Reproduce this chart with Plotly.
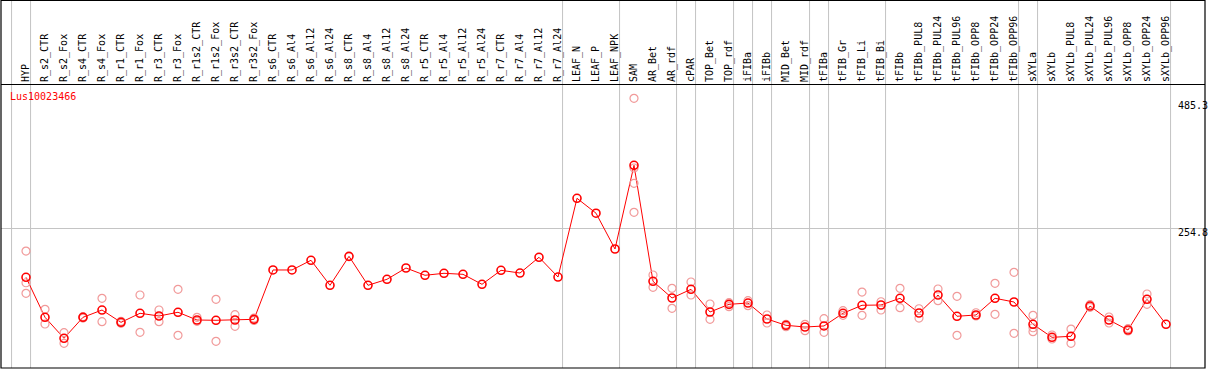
import plotly.graph_objects as go

gene = "Lus10023466"

labels = ["HYP", "R_s2_CTR", "R_s2_Fox", "R_s4_CTR", "R_s4_Fox", "R_r1_CTR", "R_r1_Fox",
          "R_r3_CTR", "R_r3_Fox", "R_r1s2_CTR", "R_r1s2_Fox", "R_r3s2_CTR", "R_r3s2_Fox",
          "R_s6_CTR", "R_s6_Al4", "R_s6_Al12", "R_s6_Al24", "R_s8_CTR", "R_s8_Al4", "R_s8_Al12",
          "R_s8_Al24", "R_r5_CTR", "R_r5_Al4", "R_r5_Al12", "R_r5_Al24", "R_r7_CTR", "R_r7_Al4",
          "R_r7_Al12", "R_r7_Al24", "LEAF_N", "LEAF_P", "LEAF_NPK", "SAM", "AR_Bet", "AR_rdf",
          "cPAR", "TOP_Bet", "TOP_rdf", "iFIBa", "iFIBb", "MID_Bet", "MID_rdf", "tFIBa",
          "tFIB_Gr", "tFIB_Li", "tFIB_Bi", "tFIBb", "tFIBb_PUL8", "tFIBb_PUL24", "tFIBb_PUL96",
          "tFIBb_OPP8", "tFIBb_OPP24", "tFIBb_OPP96", "sXYLa", "sXYLb", "sXYLb_PUL8",
          "sXYLb_PUL24", "sXYLb_PUL96", "sXYLb_OPP8", "sXYLb_OPP24", "sXYLb_OPP96"]

means = [167.9, 97.0, 59.8, 97.0, 109.9, 88.1, 104.1,
         99.3, 105.9, 92.2, 91.7, 92.2, 93.4,
         180.9, 180.9, 198.1, 153.7, 205.1, 153.7, 164.4,
         184.4, 171.5, 175.0, 173.2, 155.5, 180.3, 175.5,
         203.4, 168.4, 308.0, 281.6, 218.1, 366.5, 160.8, 131.2,
         146.6, 106.4, 120.0, 122.3, 94.0, 82.8, 79.8, 81.6,
         104.1, 118.3, 118.8, 130.7, 104.6, 136.5, 98.8,
         101.1, 130.7, 124.1, 84.6, 61.5, 63.3,
         117.0, 92.2, 74.5, 128.9, 84.6]

replicates = [[214.5, 158.3, 139.5], [111.2, 85.1], [69.7, 50.9], [98.1, 95.7], [130.7, 89.2],
              [89.9, 86.3], [136.5, 70.4], [109.9, 89.2], [146.6, 65.1], [97.0, 89.9],
              [128.9, 54.4], [101.6, 81.0], [95.7, 91.3],
              [], [], [], [], [], [], [], [], [], [], [], [], [], [], [], [],
              [], [], [], [485.3, 361.7, 334.6, 283.2], [172.0, 150.2], [148.4, 112.9],
              [159.6, 136.5], [120.6, 93.4], [122.9, 115.8], [126.4, 117.6], [101.1, 86.9],
              [84.6, 80.3], [84.6, 73.2], [94.5, 70.4], [108.7, 100.5], [141.8, 100.5],
              [124.6, 109.9], [148.4, 114.0], [112.2, 95.7], [147.2, 126.4], [134.2, 65.1],
              [105.1, 99.3], [157.3, 102.3], [176.8, 68.6], [100.5, 78.5, 71.5], [65.6, 58.5],
              [76.2, 50.9], [119.3, 114.7], [97.5, 86.9], [76.8, 72.7], [138.3, 120.0], []]

# index of last category in each group (separator drawn just after it)
group_ends = [-1, 0, 28, 31, 34, 35, 37, 38, 39, 41, 42, 45, 52, 53, 60]

y_tick_values = [485.3, 254.8, 0]
y_tick_text = ["485.3", "254.8", "0"]

FONT = "DejaVu Sans Mono"
W, H = 1209, 370
ML, MR, MT, MB = 1, 4, 85, 2

rep_x, rep_y = [], []
for lab, vals in zip(labels, replicates):
    for v in vals:
        rep_x.append(lab)
        rep_y.append(v)

fig = go.Figure()
fig.add_trace(go.Scatter(
    x=labels, y=means, mode="lines",
    line=dict(color="#FF0000", width=1),
    hoverinfo="skip", showlegend=False))
fig.add_trace(go.Scatter(
    x=rep_x, y=rep_y, mode="markers",
    marker=dict(symbol="circle-open", size=8, color="#F19A9A", line=dict(width=1.2, color="#F19A9A")),
    hoverinfo="skip", showlegend=False))
fig.add_trace(go.Scatter(
    x=labels, y=means, mode="markers",
    marker=dict(symbol="circle-open", size=8, color="#FF0000", line=dict(width=1.6, color="#FF0000")),
    showlegend=False))

# vertical group separators (through the header)
plot_h = H - MT - MB
top_paper = (H - MB - 0.5) / plot_h
shapes = []
for k in group_ends:
    shapes.append(dict(type="line", xref="x", yref="paper", x0=k + 0.24, x1=k + 0.24,
                       y0=0, y1=top_paper, line=dict(color="#C4C4C4", width=1), layer="below"))
shapes.append(dict(type="rect", xref="paper", yref="paper", x0=0, x1=1, y0=0, y1=top_paper,
                   line=dict(color="black", width=1.2), layer="above"))
fig.update_layout(shapes=shapes)

# right-side value labels
offsets = [-7, -4.4, 8.7]
for v, t, off in zip(y_tick_values, y_tick_text, offsets):
    fig.add_annotation(x=(1177 - ML) / (W - ML - MR), xref="paper", y=v, yref="y",
                       text=t, showarrow=False, xanchor="left", yanchor="middle",
                       yshift=off, borderpad=0,
                       font=dict(family=FONT, size=10, color="black"))

fig.add_annotation(x=(9 - ML) / (W - ML - MR), xref="paper", y=(H - MB - 97) / plot_h, yref="paper",
                   text=gene, showarrow=False, xanchor="left", yanchor="middle", borderpad=0,
                   font=dict(family=FONT, size=10, color="#FF0000"))

# axis scales: x positions 26 + 19*i px, y: 254.8 -> 228.3 px, 485.3 -> 98.3 px
px_per_cat = 19.0
x0_px = 26.0
xr0 = (ML - x0_px) / px_per_cat
xr1 = (W - MR - x0_px) / px_per_cat
s = (228.3 - 98.3) / (485.3 - 254.8)
zero_px = 228.3 + 254.8 * s
yr0 = (zero_px - (H - MB)) / s
yr1 = (zero_px - MT) / s

fig.update_layout(
    width=W, height=H,
    margin=dict(l=ML, r=MR, t=MT, b=MB, pad=0),
    paper_bgcolor="white", plot_bgcolor="white",
    xaxis=dict(type="category", categoryorder="array", categoryarray=labels,
               range=[xr0, xr1], side="top", tickangle=-90,
               tickfont=dict(family=FONT, size=10, color="black"),
               showgrid=False, zeroline=False, ticks="", showline=True,
               linecolor="black", linewidth=1, fixedrange=True),
    yaxis=dict(range=[yr0, yr1], tickmode="array", tickvals=[254.8], showticklabels=False,
               showgrid=True, gridcolor="#C4C4C4", gridwidth=1, zeroline=False,
               ticks="", showline=False, fixedrange=True),
    hovermode=False,
)

fig.write_html("out.html", config={"displayModeBar": False},
               post_script="document.body.style.margin='0';document.body.style.overflow='hidden';")
